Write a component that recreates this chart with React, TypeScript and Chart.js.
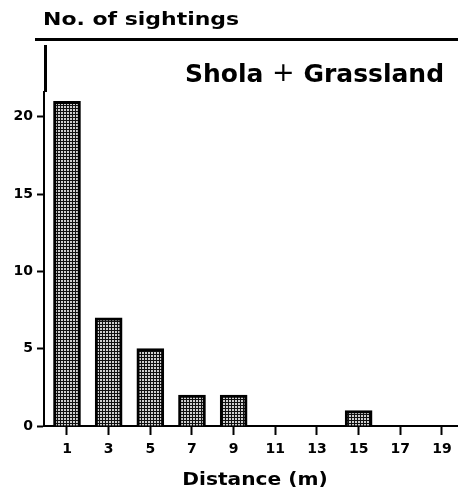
import React, { useEffect, useRef } from "react";
import { Chart, registerables } from "chart.js";

Chart.register(...registerables);

const distances = [1, 3, 5, 7, 9, 11, 13, 15, 17, 19];
const sightings = [21, 7, 5, 2, 2, 0, 0, 1, 0, 0];
const yTickValues = [0, 5, 10, 15, 20];
const yAxisTitle = "No. of sightings";
const panelTitleLeft = "Shola";
const panelTitlePlus = "+";
const panelTitleRight = "Grassland";
const xAxisTitle = "Distance (m)";

function makePattern(): CanvasPattern | string {
  const c = document.createElement("canvas");
  c.width = 3;
  c.height = 3;
  const g = c.getContext("2d");
  if (!g) return "#888";
  g.fillStyle = "#cfcfcf";
  g.fillRect(0, 0, 3, 3);
  g.fillStyle = "#111111";
  g.fillRect(0, 0, 3, 1);
  g.fillRect(0, 0, 1, 3);
  const p = g.createPattern(c, "repeat");
  return p || "#888";
}

function stretchedText(
  ctx: CanvasRenderingContext2D,
  text: string,
  x: number,
  y: number,
  sx: number
) {
  ctx.save();
  ctx.translate(x, y);
  ctx.scale(sx, 1);
  ctx.fillText(text, 0, 0);
  ctx.restore();
}

const decorPlugin = {
  id: "decor",
  afterDraw(chart: any) {
    const ctx = chart.ctx as CanvasRenderingContext2D;
    const area = chart.chartArea;
    ctx.save();
    ctx.fillStyle = "#000";
    // top rule
    ctx.fillRect(35, 38, 458 - 35, 3);
    // upper vertical segment of y axis
    ctx.fillRect(area.left, 45, 3, area.top - 45);
    ctx.textBaseline = "alphabetic";
    ctx.textAlign = "left";
    // y axis title
    ctx.font = "bold 18px 'DejaVu Sans'";
    stretchedText(ctx, yAxisTitle, 43, 25, 1.22);
    // panel title
    let x = 185;
    const base = 82;
    ctx.font = "bold 25px 'DejaVu Sans'";
    ctx.fillText(panelTitleLeft, x, base);
    x += ctx.measureText(panelTitleLeft + " ").width;
    ctx.font = "27px 'DejaVu Sans'";
    ctx.fillText(panelTitlePlus, x, base - 1);
    x += ctx.measureText(panelTitlePlus).width;
    ctx.font = "bold 25px 'DejaVu Sans'";
    x += ctx.measureText(" ").width;
    ctx.fillText(panelTitleRight, x, base);
    // x axis title
    ctx.font = "bold 18px 'DejaVu Sans'";
    const w = ctx.measureText(xAxisTitle).width * 1.12;
    stretchedText(ctx, xAxisTitle, 255 - w / 2, 485, 1.12);
    ctx.restore();
  },
};

export default function App() {
  const ref = useRef<HTMLCanvasElement | null>(null);

  useEffect(() => {
    if (!ref.current) return;
    const pattern = makePattern();
    const chart = new Chart(ref.current, {
      type: "bar",
      data: {
        datasets: [
          {
            data: distances.map((d, i) => ({ x: d, y: sightings[i] })),
            backgroundColor: pattern as any,
            borderColor: "#000",
            borderWidth: 3,
            borderSkipped: "bottom",
            barThickness: 27,
          },
        ],
      },
      options: {
        animation: false,
        responsive: true,
        maintainAspectRatio: false,
        layout: { padding: { top: 92, left: 0, right: 0, bottom: 0 } },
        plugins: {
          legend: { display: false },
          tooltip: { enabled: false },
          title: { display: false },
        },
        scales: {
          x: {
            type: "linear",
            min: -0.104,
            max: 19.77,
            offset: false,
            afterBuildTicks: (scale: any) => {
              scale.ticks = distances.map((v) => ({ value: v }));
            },
            afterFit: (scale: any) => {
              scale.height = 63;
            },
            grid: {
              display: true,
              offset: false,
              drawOnChartArea: false,
              drawTicks: true,
              tickLength: 9,
              tickWidth: 2,
              tickColor: "#000",
            },
            border: { display: true, color: "#000", width: 2 },
            ticks: {
              color: "#000",
              padding: 6,
              maxRotation: 0,
              autoSkip: false,
              font: { family: "'DejaVu Sans'", size: 14, weight: "bold" },
              callback: (v: any) => String(v),
            },
          },
          y: {
            type: "linear",
            min: 0,
            max: 21.6,
            afterBuildTicks: (scale: any) => {
              scale.ticks = yTickValues.map((v) => ({ value: v }));
            },
            afterFit: (scale: any) => {
              scale.width = 44;
            },
            grid: {
              display: true,
              drawOnChartArea: false,
              drawTicks: true,
              tickLength: 7,
              tickWidth: 2,
              tickColor: "#000",
            },
            border: { display: true, color: "#000", width: 2 },
            ticks: {
              color: "#000",
              padding: 4,
              font: { family: "'DejaVu Sans'", size: 14, weight: "bold" },
              callback: (v: any) => String(v),
            },
          },
        },
      },
      plugins: [decorPlugin],
    });
    return () => chart.destroy();
  }, []);

  return (
    <div
      style={{
        position: "fixed",
        left: 0,
        top: 0,
        width: 458,
        height: 489,
        background: "#fff",
      }}
    >
      <canvas ref={ref} />
    </div>
  );
}
